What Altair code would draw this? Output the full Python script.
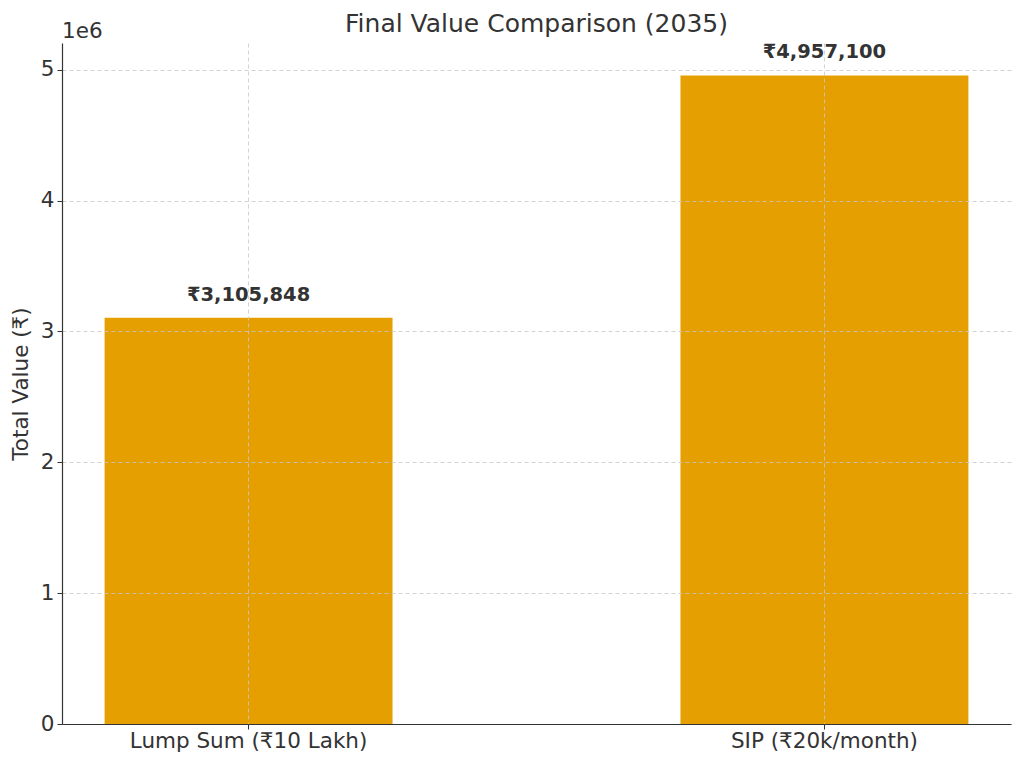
import altair as alt
import pandas as pd

categories = ["Lump Sum (₹10 Lakh)", "SIP (₹20k/month)"]
values = [3105848, 4957100]
value_labels = ["₹3,105,848", "₹4,957,100"]
y_ticks = [0, 1000000, 2000000, 3000000, 4000000, 5000000]
offset_text = ["1e6"]

df = pd.DataFrame({"category": categories, "value": values, "label": value_labels})

FONT = "DejaVu Sans"
DARK = "#333333"

x_enc = alt.X(
    "category:N",
    sort=categories,
    scale=alt.Scale(paddingInner=0.5, paddingOuter=0.074),
    axis=alt.Axis(
        title=None, labelAngle=0, bandPosition=0.5, grid=True,
        gridDash=[4, 3], gridColor="#c8c8c8", gridWidth=0.8,
        labelFontSize=21.5, labelPadding=1, labelLimit=500, zindex=1,
    ),
)
y_enc = alt.Y(
    "value:Q",
    scale=alt.Scale(domain=[0, 5205000], nice=False, zero=True),
    axis=alt.Axis(
        title="Total Value (₹)", values=y_ticks,
        labelExpr="format(datum.value/1000000, 'd')",
        grid=True, gridDash=[4, 3], gridColor="#c8c8c8", gridWidth=0.8,
        labelFontSize=21.5, titleFontSize=21.5, titleFontWeight="normal",
        titlePadding=8, labelPadding=3, zindex=1,
    ),
)

base = alt.Chart(df)
bars = base.mark_bar(color="#E69F00").encode(x=x_enc, y=y_enc)
texts = base.mark_text(
    font=FONT, fontSize=19.5, fontWeight="bold", color=DARK,
    baseline="bottom", dy=-13,
).encode(x=alt.X("category:N", sort=categories), y="value:Q", text="label:N")

offset = alt.Chart(pd.DataFrame({"t": offset_text})).mark_text(
    font=FONT, fontSize=21.5, color=DARK, align="left", baseline="alphabetic",
).encode(text="t:N", x=alt.value(0), y=alt.value(-5))

chart = alt.layer(bars, texts, offset).properties(
    width=949, height=681,
    title=alt.TitleParams("Final Value Comparison (2035)", fontSize=25, font=FONT,
                          color=DARK, fontWeight="normal", anchor="middle",
                          frame="group", offset=8, dy=24),
    padding={"left": 62, "top": 43, "right": 13, "bottom": 41},
    autosize="none",
).configure_view(stroke=None).configure_axis(
    labelFont=FONT, titleFont=FONT, labelColor=DARK, titleColor=DARK,
    domainColor=DARK, tickColor=DARK, tickSize=5, tickWidth=1, domainWidth=1.2,
)

chart.save("out.html", embed_options={"renderer": "svg", "actions": False})
